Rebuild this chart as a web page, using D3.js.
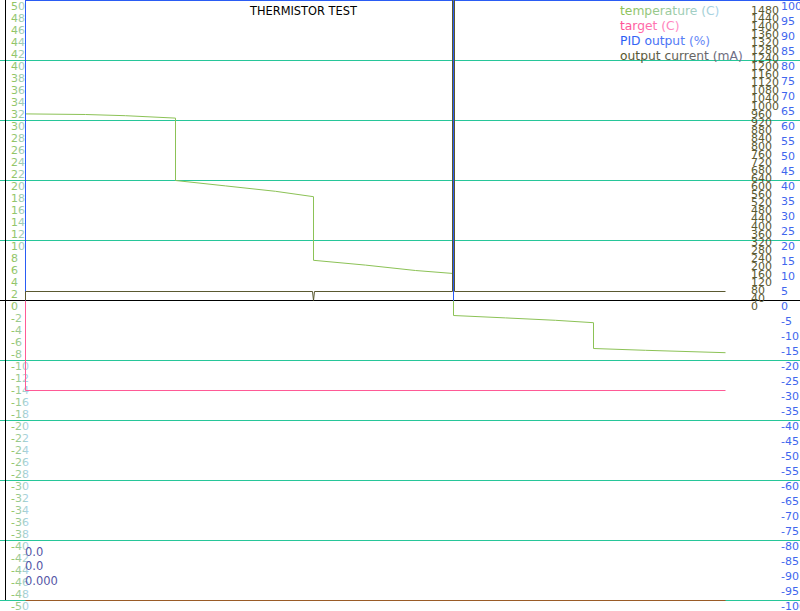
<!DOCTYPE html>
<html>
<head>
<meta charset="utf-8">
<script src="https://cdn.jsdelivr.net/npm/d3@7"></script>
<style>
  body { margin: 0; background: #fff; }
  svg { display: block; font-family: "DejaVu Sans", sans-serif; }
</style>
</head>
<body>
<div id="chart"></div>
<script>
// data (time in s, one px per s)
const tempTime = [0, 60, 100, 150, 150, 200, 250, 288, 288, 340, 390, 428, 428, 480, 530, 568, 568, 620, 700]
const tempVals = [31.1, 31.0, 30.8, 30.4, 20.0, 19.1, 18.2, 17.3, 6.7, 5.9, 5.0, 4.5, -2.5, -2.9, -3.3, -3.7, -8.0, -8.3, -8.7]
const targetTime = [0, 0, 700]
const targetVals = [0, -15, -15]
const pidTime = [0, 0, 428, 428, 428, 700]
const pidVals = [0, 100, 100, 0, 100, 100]
const currentTime = [0, 0, 287, 288, 289, 427, 427, 429, 429, 700]
const currentVals = [0, 45, 45, 0, 45, 45, 1700, 1700, 45, 45]
const floorTime = [0, 700]
const floorVals = [-50, -50]

const tempTicks = d3.range(-50, 51, 2)
const pidTicks = d3.range(-100, 101, 5)
const currentTicks = d3.range(0, 1481, 40)
const gridTicks = [-50, -40, -30, -20, -10, 10, 20, 30, 40]
const legendNames = ["temperature (C)", "target (C)", "PID output (%)", "output current (mA)"]
const statusLines = ["0.0", "0.0", "0.000"]
const title = "THERMISTOR TEST"

const W = 800, H = 611
const svg = d3.select("#chart").append("svg").attr("width", W).attr("height", H)

const x = d3.scaleLinear().domain([0, 775]).range([25.5, 800.5])
const yTemp = d3.scaleLinear().domain([-50, 50]).range([600.5, 0.5])
const yPid = d3.scaleLinear().domain([-100, 100]).range([600.5, 0.5])
const yCur = d3.scaleLinear().domain([0, 1500]).range([300.5, 0.5])

const defs = svg.append("defs")
const grad = (id, x1, x2, c1, c2) => {
    const g = defs.append("linearGradient").attr("id", id)
        .attr("gradientUnits", "userSpaceOnUse")
        .attr("x1", x1).attr("x2", x2).attr("y1", 0).attr("y2", 0)
    g.append("stop").attr("offset", 0).attr("stop-color", c1)
    g.append("stop").attr("offset", 1).attr("stop-color", c2)
}
grad("gTempAxis", 12, 28, "#8cc256", "#a9d3ef")
grad("gLeg0", 620, 722, "#8cc256", "#a9d3ef")
grad("gLeg1", 620, 690, "#ff4f93", "#ff9ad0")
grad("gLeg2", 620, 717, "#2a5cf4", "#6f8ff6")
grad("gLeg3", 620, 760, "#55552a", "#75739a")
defs.append("clipPath").attr("id", "plotClip")
    .append("rect").attr("x", 0).attr("y", 0).attr("width", W).attr("height", 601)

// grid
svg.append("g").selectAll("line").data(gridTicks).join("line")
    .attr("x1", 0).attr("x2", W)
    .attr("y1", d => yTemp(d)).attr("y2", d => yTemp(d))
    .attr("stroke", "#27c699").attr("stroke-width", 1)
svg.append("line").attr("x1", 0).attr("x2", W)
    .attr("y1", yTemp(-50)).attr("y2", yTemp(-50))
    .attr("stroke", "#27c699")
svg.append("line").attr("x1", 0).attr("x2", W)
    .attr("y1", yTemp(0)).attr("y2", yTemp(0))
    .attr("stroke", "#000")
svg.append("line").attr("x1", 5.5).attr("x2", 5.5)
    .attr("y1", 0).attr("y2", 600)
    .attr("stroke", "#000")
svg.append("line").attr("x1", 25).attr("x2", W)
    .attr("y1", 0.5).attr("y2", 0.5)
    .attr("stroke", "#2a5cf4")

// axis labels
svg.append("g").selectAll("text").data(tempTicks).join("text")
    .attr("x", 11).attr("y", d => yTemp(d) + 9.5)
    .attr("font-size", 11).attr("fill", "url(#gTempAxis)")
    .text(d => d)
svg.append("g").selectAll("text").data(currentTicks).join("text")
    .attr("x", 751).attr("y", d => yCur(d) + 9.5)
    .attr("font-size", 11).attr("fill", "#5a5930")
    .text(d => d)
svg.append("g").selectAll("text").data(pidTicks).join("text")
    .attr("x", 781).attr("y", d => yPid(d) + 9.5)
    .attr("font-size", 11).attr("fill", "#3f67ee")
    .text(d => d)

// series
const plot = svg.append("g").attr("clip-path", "url(#plotClip)")
const drawSeries = (ts, vs, y, color) => {
    const pts = ts.map((t, i) => [t, vs[i]])
    plot.append("path").datum(pts)
        .attr("fill", "none").attr("stroke", color).attr("stroke-width", 1)
        .attr("d", d3.line().x(d => x(d[0])).y(d => y(d[1])))
}
drawSeries(floorTime, floorVals, yTemp, "#9a5b27")
drawSeries(tempTime, tempVals, yTemp, "#8cc256")
drawSeries(targetTime, targetVals, yTemp, "#ff5a96")
drawSeries(pidTime, pidVals, yPid, "#2a5cf4")
drawSeries(currentTime, currentVals, yCur, "#5a5930")

// title, legend, status text
svg.append("text").attr("x", 250).attr("y", 15)
    .attr("font-size", 11.4).attr("fill", "#000").text(title)

svg.append("g").selectAll("text").data(legendNames).join("text")
    .attr("x", 620).attr("y", (d, i) => 15 + i * 15)
    .attr("font-size", 12.3).attr("fill", (d, i) => `url(#gLeg${i})`)
    .text(d => d)

svg.append("g").selectAll("text").data(statusLines).join("text")
    .attr("x", 25).attr("y", (d, i) => 555.5 + i * 14.5)
    .attr("font-size", 11.5).attr("fill", "#5656a6")
    .text(d => d)
</script>
</body>
</html>
